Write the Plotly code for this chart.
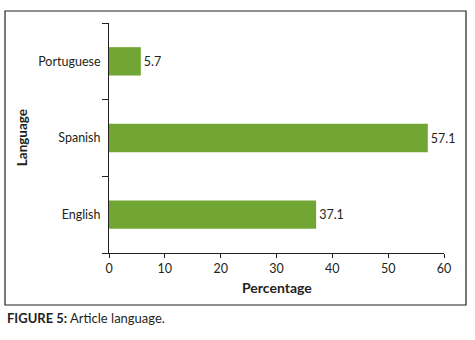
import plotly.graph_objects as go

categories = ["English", "Spanish", "Portuguese"]
values = [37.1, 57.1, 5.7]
x_ticks = [0, 10, 20, 30, 40, 50, 60]

FONT = "Lato, 'Open Sans', sans-serif"
TXT = "#231f20"
BAR = "#72a634"

fig = go.Figure(go.Bar(
    x=values, y=categories, orientation="h",
    marker=dict(color=BAR, line=dict(width=0)),
    width=0.37,
    text=[f"{v:.1f}" for v in values], textposition="outside",
    textfont=dict(family=FONT, size=12.5, color=TXT),
    cliponaxis=False,
))

fig.update_layout(
    width=475, height=340,
    margin=dict(l=109, r=31, t=23, b=87),
    paper_bgcolor="white", plot_bgcolor="white",
    showlegend=False,
    font=dict(family=FONT, size=12, color=TXT),
    xaxis=dict(range=[0, 60], tickvals=x_ticks, showgrid=False, zeroline=False,
               showline=True, linecolor="#231f20", linewidth=1, automargin=False,
               ticks="outside", ticklen=4, tickcolor="#231f20",
               tickfont=dict(family=FONT, size=12.5, color=TXT)),
    yaxis=dict(categoryorder="array", categoryarray=categories,
               showgrid=False, zeroline=False, automargin=False,
               showline=True, linecolor="#231f20", linewidth=1,
               ticks="outside", ticklen=6, tickson="boundaries", tickcolor="#231f20",
               ticklabelstandoff=5,
               tickfont=dict(family=FONT, size=12.5, color=TXT)),
    annotations=[
        dict(text="<b>Percentage</b>", xref="paper", yref="paper", x=0.5, y=-0.148,
             xanchor="center", yanchor="middle", showarrow=False,
             font=dict(family=FONT, size=14, color=TXT)),
        dict(text="<b>Language</b>", xref="paper", yref="paper", x=-0.259, y=0.5,
             xanchor="center", yanchor="middle", textangle=-90, showarrow=False,
             font=dict(family=FONT, size=13.5, color=TXT)),
        dict(text="<b>FIGURE 5:</b> Article language.", xref="paper", yref="paper",
             x=-0.3104, y=-0.2826, xanchor="left", yanchor="middle", showarrow=False,
             font=dict(family=FONT, size=13, color=TXT)),
    ],
    shapes=[
        dict(type="rect", xref="paper", yref="paper", x0=-0.3104, x1=1.0657,
             y0=-0.2261, y1=1.0522, line=dict(color="#231f20", width=1.2),
             fillcolor="rgba(0,0,0,0)", layer="below"),
    ],
)

fig.write_html("out.html", config={"displayModeBar": False},
               post_script="document.body.style.margin='0';document.body.style.overflow='hidden';")
